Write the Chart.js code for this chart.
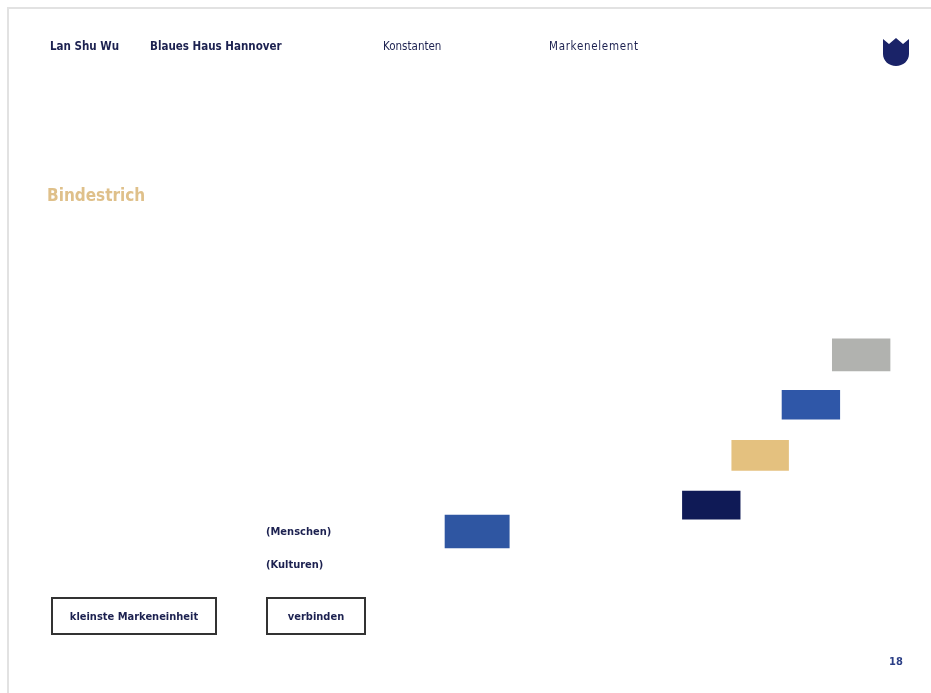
<!DOCTYPE html>
<html>
<head>
<meta charset="utf-8">
<script src="https://cdn.jsdelivr.net/npm/chart.js@4/dist/chart.umd.min.js"></script>
<style>
    html, body { margin: 0; padding: 0; background: #fff; }
    body { width: 931px; height: 693px; position: relative; overflow: hidden;
           font-family: "DejaVu Sans Condensed", "DejaVu Sans", sans-serif; color: #1c2150; }
    #frame { position: absolute; left: 7px; top: 7px; right: -4px; bottom: -4px;
             border-top: 2px solid #e2e2e2; border-left: 2px solid #e2e2e2; }
    #chart { position: absolute; left: 0; top: 0; }
    .t { position: absolute; white-space: nowrap; line-height: 1; }
    .nav { top: 41px; font-size: 11.5px; font-weight: bold; }
    .nav.light { font-weight: normal; }
    #title { left: 47px; top: 187px; font-size: 17px; font-weight: bold; color: #dfc08a; }
    .note { left: 266px; font-size: 11px; font-weight: bold; }
    .box { position: absolute; top: 597px; height: 34px; border: 2px solid #333;
           display: flex; align-items: center; justify-content: center;
           font-size: 11px; font-weight: bold; }
    #page { left: 889px; top: 656px; font-size: 11px; font-weight: bold; color: #2b3f86; }
    #logo { position: absolute; left: 881px; top: 37px; }
</style>
</head>
<body>
<div id="frame"></div>
<canvas id="chart" width="931" height="693"></canvas>

<div class="t nav" style="left:50px">Lan Shu Wu</div>
<div class="t nav" style="left:150px">Blaues Haus Hannover</div>
<div class="t nav light" style="left:383px">Konstanten</div>
<div class="t nav light" style="left:549px; letter-spacing:0.7px">Markenelement</div>
<svg id="logo" width="30" height="30" viewBox="0 0 30 30">
    <path d="M2 2 L8 7 L15 1 L22 7 L28 2 L28 17 C28 24 22 29 15 29 C8 29 2 24 2 17 Z" fill="#1a2368"/>
</svg>

<div class="t" id="title">Bindestrich</div>

<div class="t note" style="top:526px">(Menschen)</div>
<div class="t note" style="top:559px">(Kulturen)</div>

<div class="box" style="left:51px; width:162px">kleinste Markeneinheit</div>
<div class="box" style="left:266px; width:96px">verbinden</div>

<div class="t" id="page">18</div>

<script>
// slide units: 0..100 across, 0..100 bottom to top
const rectNames = ['Menschen', 'Kulturen', 'Gold', 'Blau', 'Grau'];
const rectStart = [47.8, 73.3, 78.6, 84.0, 89.4];
const rectEnd = [54.7, 79.5, 84.7, 90.2, 95.6];
const rectLevel = [23.3, 27.1, 34.3, 41.6, 48.8];

const rectColors = ['#2f56a2', '#0f1a56', '#e4c17f', '#2f57a8', '#b1b2af'];
const rectHeights = [33, 28, 30, 29, 32];

document.addEventListener('DOMContentLoaded', function () {
    const ctx = document.getElementById('chart').getContext('2d');

    const datasets = rectNames.map(function (name, i) {
        return {
            label: name,
            data: [{ x: [rectStart[i], rectEnd[i]], y: rectLevel[i] }],
            backgroundColor: rectColors[i],
            borderWidth: 0,
            barThickness: rectHeights[i]
        };
    });

    new Chart(ctx, {
        type: 'bar',
        data: { datasets: datasets },
        options: {
            indexAxis: 'y',
            responsive: false,
            animation: false,
            grouped: false,
            layout: { padding: 0 },
            scales: {
                x: { type: 'linear', min: 0, max: 100, display: false },
                y: { type: 'linear', min: 0, max: 100, offset: false, display: false }
            },
            plugins: {
                legend: { display: false },
                tooltip: { enabled: false }
            }
        }
    });
});
</script>
</body>
</html>
